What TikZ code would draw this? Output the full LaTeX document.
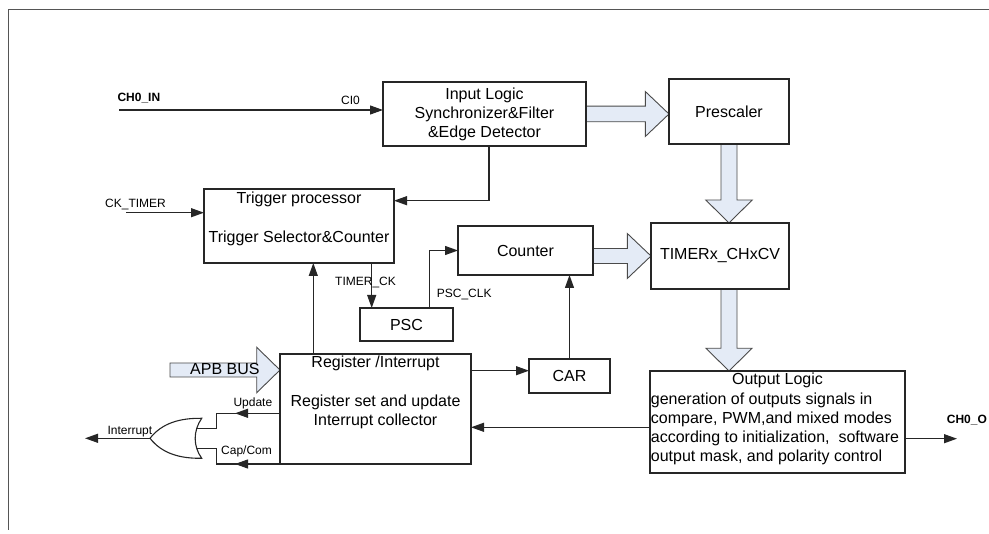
\documentclass[tikz,border=0pt]{standalone}
\usepackage{fontspec}
\setmainfont{Liberation Sans}
\usetikzlibrary{arrows.meta,calc,backgrounds}
\definecolor{boxc}{HTML}{262626}
\definecolor{fatfill}{HTML}{E4EBF6}
\definecolor{fatline}{HTML}{4A4A4A}
\definecolor{framec}{HTML}{555555}
\begin{document}
\begin{tikzpicture}[x=1pt,y=-1pt,
  box/.style={draw=boxc, line width=1.1pt, inner sep=0pt, outer sep=0pt, align=center, font=\fontsize{16}{19}\selectfont},
  wire/.style={draw=boxc, line width=1.1pt},
  arr/.style={wire, -{Triangle[length=13pt,width=9pt]}},
  fat/.style={draw=fatline, fill=fatfill, line width=0.9pt, line join=miter},
  txt/.style={font=\fontsize{16}{19}\selectfont, inner sep=0pt, anchor=base},
  txtl/.style={txt, anchor=base west},
  lbl/.style={font=\fontsize{12}{14}\selectfont, inner sep=0pt, anchor=base west},
  blbl/.style={font=\fontsize{12}{14}\selectfont\bfseries, inner sep=0pt, anchor=base west},
  frameline/.style={draw=framec, line width=1pt}]
\useasboundingbox (0,0) rectangle (989,534);
\draw[frameline] (8,530) -- (8,9.5) -- (989,9.5);

% boxes
\node[box, minimum width=203pt, minimum height=64pt] (inl) at (484.5,114) {Input Logic\\Synchronizer\&Filter\\\&Edge Detector};
\node[box, minimum width=120pt, minimum height=65pt] (pre) at (729,111.5) {Prescaler};
\node[box, minimum width=138pt, minimum height=66pt] (tcv) at (720,256) {TIMERx\_CHxCV};
\node[box, minimum width=190pt, minimum height=74pt] (trg) at (299,226) {};
\node[txt] (trgt1) at (299,204) {Trigger processor};
\node[txt] (trgt2) at (299,242.7) {Trigger Selector\&Counter};
\node[box, minimum width=135pt, minimum height=49pt] (cnt) at (525.5,250.5) {Counter};
\node[box, minimum width=93pt, minimum height=33pt] (psc) at (406.5,324.5) {PSC};
\node[box, minimum width=191pt, minimum height=110pt] (reg) at (375.5,409) {};
\node[txt] (regt1) at (375.5,367.7) {Register /Interrupt};
\node[txt] (regt2) at (375.5,406.7) {Register set and update};
\node[txt] (regt3) at (375.5,425.7) {Interrupt collector};
\node[box, minimum width=81pt, minimum height=34pt] (car) at (569.5,376) {CAR};
\node[box, minimum width=255pt, minimum height=102pt] (out) at (777.5,422) {};
\node[txt] (outt0) at (777.5,385) {Output Logic};
\node[txtl] (outt1) at (650.7,404.3) {generation of outputs signals in};
\node[txtl] (outt2) at (650.7,423.7) {compare, PWM,and mixed modes};
\node[txtl] (outt3) at (650.7,442.7) {according to initialization,\ \ software};
\node[txtl] (outt4) at (650.7,462) {output mask, and polarity control};

% fat arrows
\coordinate (apb) at (170,370);
\coordinate (a1t) at (pre.west |- inl.east);
\coordinate (a2t) at (pre.south |- tcv.north);
\coordinate (a3s) at (cnt.east |- tcv.west);
\coordinate (a4s) at (pre.south |- tcv.south);
\coordinate (a4t) at (pre.south |- out.north);
\coordinate (a5t) at (reg.west |- apb);
\begin{scope}[on background layer]
\draw[fat] ($(inl.east)+(0,-7.8)$) -- ($(a1t)+(-23.7,-7.8)$) -- ($(a1t)+(-23.7,-22.5)$) -- (a1t) -- ($(a1t)+(-23.7,22.5)$) -- ($(a1t)+(-23.7,7.8)$) -- ($(inl.east)+(0,7.8)$);
\draw[fat] ($(pre.south)+(-8,0)$) -- ($(a2t)+(-8,-23)$) -- ($(a2t)+(-23.2,-23)$) -- (a2t) -- ($(a2t)+(23.2,-23)$) -- ($(a2t)+(8,-23)$) -- ($(pre.south)+(8,0)$);
\draw[fat] ($(a3s)+(0,-7.5)$) -- ($(tcv.west)+(-23.7,-7.5)$) -- ($(tcv.west)+(-23.7,-22.5)$) -- (tcv.west) -- ($(tcv.west)+(-23.7,22.5)$) -- ($(tcv.west)+(-23.7,7.5)$) -- ($(a3s)+(0,7.5)$);
\draw[fat] ($(a4s)+(-8,0)$) -- ($(a4t)+(-8,-22.7)$) -- ($(a4t)+(-23,-22.7)$) -- (a4t) -- ($(a4t)+(23,-22.7)$) -- ($(a4t)+(8,-22.7)$) -- ($(a4s)+(8,0)$);
\draw[fat] ($(apb)+(0,-7)$) -- ($(a5t)+(-23.3,-7)$) -- ($(a5t)+(-23.3,-22.7)$) -- (a5t) -- ($(a5t)+(-23.3,22.7)$) -- ($(a5t)+(-23.3,7)$) -- ($(apb)+(0,7)$) -- cycle;
\end{scope}
\node[txtl] (apbt) at (190,375) {APB BUS};

% thin connectors
\coordinate (chin) at (119.3,110);
\draw[arr] (chin) -- (chin -| inl.west);
\coordinate (ckt) at (126,212.7);
\draw[arr] (ckt) -- (ckt -| trg.west);
\draw[arr] ($(inl.south)+(4.5,0)$) |- ($(trg.north east)+(0,11.7)$);
\coordinate (rt) at ($(reg.north west)+(33.3,0)$);
\draw[arr] (rt) -- (rt |- trg.south);
\coordinate (tc) at ($(psc.north west)+(11.7,0)$);
\draw[arr] (tc |- trg.south) -- (tc);
\draw[arr] ($(psc.north west)+(69.3,0)$) |- (cnt.west);
\coordinate (cw) at ($(car.west)+(0,-5.3)$);
\draw[arr] (cw -| reg.east) -- (cw);
\draw[arr] (car.north) -- (car.north |- cnt.south);
\coordinate (ow) at ($(out.west)+(0,5.3)$);
\draw[arr] (ow) -- (ow -| reg.east);
\coordinate (oe) at ($(out.east)+(0,16.7)$);
\draw[arr] (oe) -- ++(52,0) coordinate (choend);

% OR gate and its wiring
\coordinate (g1) at (196.5,428.3);
\coordinate (g2) at (196.5,448.3);
\coordinate (gout) at (150,438.3);
\coordinate (intend) at (85,438.3);
\coordinate (bx) at (216.7,0);
\coordinate (ru) at ($(reg.north west)+(0,59.3)$);
\coordinate (rc) at (reg.south west);
\draw[wire] (201.7,418.3) .. controls (180,418) and (162,423) .. (gout) .. controls (162,453.6) and (180,458.6) .. (201.7,458.3) .. controls (193,446) and (193,431) .. (201.7,418.3) -- cycle;
\draw[wire] (ru) -- (bx |- ru) -- (bx |- g1) -- (g1);
\draw[arr] (ru) -- ($(ru)+(-45,0)$);
\draw[wire] (rc) -- (bx |- rc) -- (bx |- g2) -- (g2);
\draw[arr] (rc) -- ($(rc)+(-45,0)$);
\draw[arr] (gout) -- (intend);

% labels
\node[blbl] (chinl) at (117.3,102) {CH0\_IN};
\node[lbl] (cil) at (341,105) {CI0};
\node[lbl] (cktl) at (105,207.3) {CK\_TIMER};
\node[lbl] (tckl) at (335,285.3) {TIMER\_CK};
\node[lbl] (pscl) at (436.7,297.3) {PSC\_CLK};
\node[lbl] (updl) at (233.3,406.7) {Update};
\node[lbl] (capl) at (221,454.3) {Cap/Com};
\node[lbl] (intl) at (107.3,435) {Interrupt};
\node[blbl] (chol) at (946.7,424) {CH0\_O};
\end{tikzpicture}
\end{document}
